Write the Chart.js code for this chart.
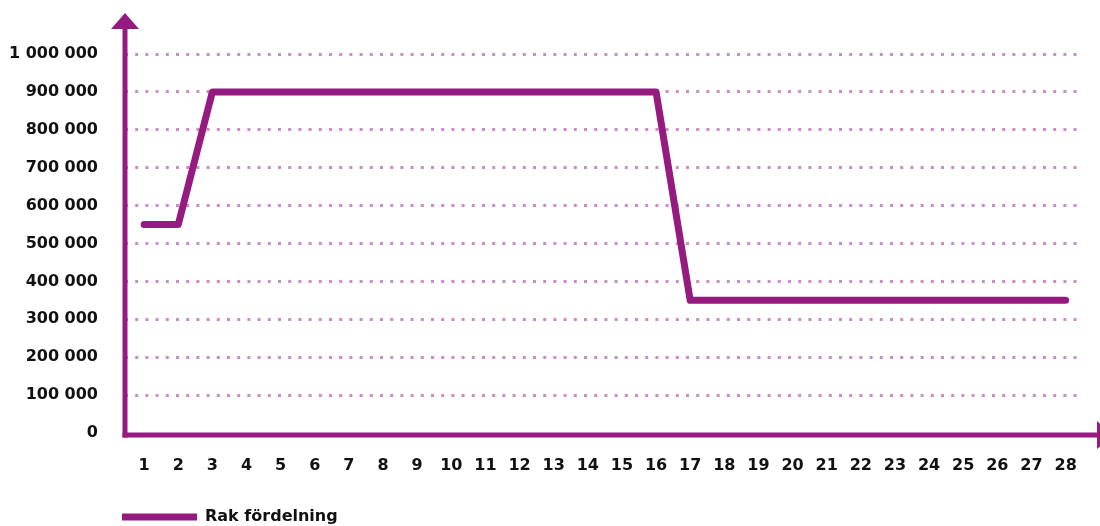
<!DOCTYPE html>
<html>
<head>
<meta charset="utf-8">
<script src="https://cdn.jsdelivr.net/npm/chart.js@4"></script>
<style>
  html, body { margin: 0; padding: 0; background: #fff; overflow: hidden; }
  #wrap { position: relative; width: 1100px; height: 561px; }
</style>
</head>
<body>
<div id="wrap"><canvas id="chart"></canvas></div>
<script>
// ============ DATA ============
const DAYS = [1, 2, 3, 4, 5, 6, 7, 8, 9, 10, 11, 12, 13, 14, 15, 16, 17, 18, 19, 20, 21, 22, 23, 24, 25, 26, 27, 28];
const RAK_FORDELNING = [550000, 550000, 900000, 900000, 900000, 900000, 900000, 900000, 900000, 900000,
  900000, 900000, 900000, 900000, 900000, 900000, 350000, 350000, 350000, 350000,
  350000, 350000, 350000, 350000, 350000, 350000, 350000, 350000];
const Y_TICKS = [0, 100000, 200000, 300000, 400000, 500000, 600000, 700000, 800000, 900000, 1000000];
const SERIES_LABEL = "Rak fördelning";

const PURPLE = "#951b81";
const GRID_PURPLE = "#c78ec4";
const FONT = "DejaVu Sans";

// ============ UTILS ============
function formatSpace(n) {
  return String(n).replace(/\B(?=(\d{3})+(?!\d))/g, " ");
}

// axes with arrow heads, legend moved under the y axis
const arrowAxes = {
  id: "arrowAxes",
  afterLayout(chart) {
    const lg = chart.legend;
    lg.left = 92;
    lg.top = 479;
  },
  afterDraw(chart) {
    const { ctx, chartArea } = chart;
    const x0 = chartArea.left;
    const y0 = chartArea.bottom + 2;
    ctx.save();
    ctx.strokeStyle = PURPLE;
    ctx.fillStyle = PURPLE;
    ctx.lineWidth = 5;
    ctx.lineCap = "butt";
    // y axis
    ctx.beginPath();
    ctx.moveTo(x0, y0 + 2.5);
    ctx.lineTo(x0, 27);
    ctx.stroke();
    ctx.beginPath();
    ctx.moveTo(x0, 13);
    ctx.lineTo(x0 - 14, 29);
    ctx.lineTo(x0 + 14, 29);
    ctx.closePath();
    ctx.fill();
    // x axis
    ctx.beginPath();
    ctx.moveTo(x0 - 2.5, y0);
    ctx.lineTo(1099, y0);
    ctx.stroke();
    ctx.beginPath();
    ctx.moveTo(1113, y0);
    ctx.lineTo(1097, y0 - 14);
    ctx.lineTo(1097, y0 + 14);
    ctx.closePath();
    ctx.fill();
    ctx.restore();
  }
};

// ============ CHART ============
new Chart(document.getElementById("chart"), {
  type: "line",
  plugins: [arrowAxes],
  data: {
    datasets: [{
      label: SERIES_LABEL,
      data: DAYS.map((d, i) => ({ x: d, y: RAK_FORDELNING[i] })),
      borderColor: PURPLE,
      backgroundColor: PURPLE,
      borderWidth: 7,
      borderJoinStyle: "round",
      borderCapStyle: "round",
      pointRadius: 0,
      tension: 0
    }]
  },
  options: {
    responsive: true,
    maintainAspectRatio: false,
    animation: false,
    layout: { padding: { top: 54, right: 21, bottom: 0, left: 0 } },
    plugins: {
      tooltip: { enabled: false },
      legend: {
        position: "bottom",
        align: "start",
        labels: {
          padding: 30,
          usePointStyle: true,
          pointStyle: "line",
          pointStyleWidth: 75,
          color: "#111",
          font: { family: FONT, size: 16, weight: "bold" },
          generateLabels(chart) {
            const items = Chart.defaults.plugins.legend.labels.generateLabels(chart);
            items.forEach(it => { it.lineCap = "butt"; it.pointStyle = "line"; });
            return items;
          }
        }
      }
    },
    scales: {
      x: {
        type: "linear",
        min: 0.44,
        max: 28.32,
        grid: { display: false, drawTicks: false },
        border: { display: false },
        afterBuildTicks: s => { s.ticks = DAYS.map(v => ({ value: v })); },
        afterFit: s => { s.height = 72; },
        ticks: {
          autoSkip: false,
          maxRotation: 0,
          padding: 23,
          color: "#111",
          font: { family: FONT, size: 16, weight: "bold" },
          callback: v => String(v)
        }
      },
      y: {
        min: 0,
        max: 1000000,
        afterBuildTicks: s => { s.ticks = Y_TICKS.map(v => ({ value: v })); },
        afterFit: s => { s.width = 125; },
        grid: {
          drawTicks: false,
          color: ctx => ctx.tick && ctx.tick.value === 0 ? "rgba(0,0,0,0)" : GRID_PURPLE,
          lineWidth: 3
        },
        border: { display: false, dash: [3, 7.2] },
        ticks: {
          padding: 27,
          color: "#111",
          font: { family: FONT, size: 16, weight: "bold" },
          callback: v => formatSpace(v)
        }
      }
    }
  }
});
</script>
</body>
</html>
